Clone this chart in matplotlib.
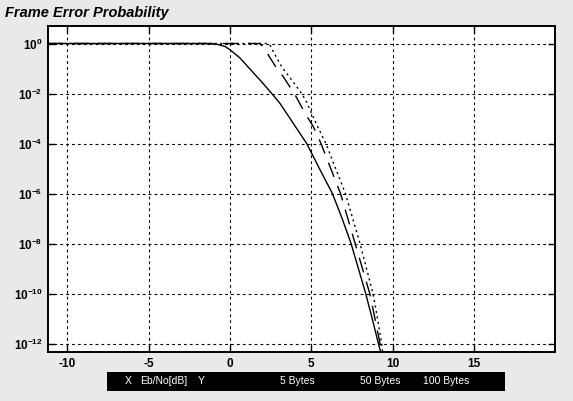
import numpy as np
import matplotlib
matplotlib.use("Agg")
import matplotlib.pyplot as plt
import matplotlib.patches as patches

# Eb/No in dB and log10 of frame error probability
x_5 = [-11.2, -1.5, -0.8, -0.3, 0.0, 0.6, 1.2, 1.9, 2.57, 3.08, 3.9, 4.72,
       5.5, 6.3, 6.9, 7.45, 7.9, 8.35, 8.75, 9.13, 9.3]
lg_5 = [0, 0, -0.03, -0.12, -0.25, -0.57, -1.0, -1.5, -2.0, -2.4, -3.2, -4.0,
        -5.0, -6.0, -7.0, -8.0, -9.0, -10.0, -11.0, -12.0, -12.4]

x_50 = [-11.2, 1.8, 2.1, 2.36, 2.87, 3.28, 4.0, 4.62, 5.13, 5.6, 6.2, 6.8,
        7.25, 7.7, 8.15, 8.6, 8.92, 9.23, 9.35]
lg_50 = [0, 0, -0.15, -0.46, -0.99, -1.33, -2.05, -2.79, -3.33, -4.0, -5.0, -6.0,
         -7.0, -8.0, -9.0, -10.0, -11.0, -12.0, -12.4]

x_100 = [-11.2, 2.3, 2.5, 2.67, 3.18, 3.9, 4.41, 4.72, 5.3, 5.9, 6.5, 7.1,
         7.55, 8.0, 8.4, 8.8, 9.08, 9.33, 9.4]
lg_100 = [0, 0, -0.1, -0.33, -0.93, -1.55, -2.0, -2.35, -3.2, -4.0, -5.0, -6.0,
          -7.0, -8.0, -9.0, -10.0, -11.0, -12.0, -12.4]

xticks = [-10, -5, 0, 5, 10, 15]
yexps = [0, -2, -4, -6, -8, -10, -12]
bar_labels = ["X", "Eb/No[dB]", "Y", "5 Bytes", "50 Bytes", "100 Bytes"]
bar_xpos = [125, 140, 198, 280, 360, 423]  # pixel positions in the bottom strip

plt.rcParams['font.family'] = ['Liberation Sans', 'DejaVu Sans']
plt.rcParams['mathtext.fontset'] = 'custom'
plt.rcParams['mathtext.rm'] = 'Liberation Sans'
plt.rcParams['mathtext.bf'] = 'Liberation Sans:bold'

W, H = 573, 401
fig = plt.figure(figsize=(W / 100, H / 100), dpi=100, facecolor='#e9e9e9')
ax = fig.add_axes([48 / W, 1 - 352 / H, (555 - 48) / W, (352 - 26) / H])
ax.set_facecolor('white')

ax.semilogy(x_5, 10.0 ** np.array(lg_5), color='black', lw=1.0, ls='-')
ax.semilogy(x_50, 10.0 ** np.array(lg_50), color='black', lw=1.0, ls=(0, (11, 7)))
ax.semilogy(x_100, 10.0 ** np.array(lg_100), color='black', lw=1.0, ls=(0, (1.5, 2.5)))

ax.set_xlim(-11.2, 20.0)
ax.set_ylim(10 ** -12.34, 10 ** 0.7)
ax.set_xticks(xticks)
ax.set_xticklabels([str(t).replace('-', '-') for t in xticks], fontweight='bold', fontsize=8.5)
ax.set_yticks([10.0 ** e for e in yexps])
ax.set_yticklabels([r'$\mathbf{10^{%d}}$' % e for e in yexps], fontsize=8.5)
ax.minorticks_off()
ax.tick_params(direction='in', length=5, width=1, top=True, right=True, pad=4)
ax.grid(True, color='black', lw=0.8, ls=(0, (2.5, 2.8)))
for s in ax.spines.values():
    s.set_linewidth(1.4)

fig.text(5 / W, 1 - 13 / H, "Frame Error Probability", fontsize=10.5,
         fontweight='bold', fontstyle='italic', va='center', ha='left')

# black strip with axis / series names
bar = patches.Rectangle((107 / W, 1 - 391 / H), (505 - 107) / W, 19 / H,
                        transform=fig.transFigure, facecolor='black', edgecolor='none')
fig.patches.append(bar)
for lab, px in zip(bar_labels, bar_xpos):
    fig.text(px / W, 1 - 381.5 / H, lab, color='white', fontsize=7.5,
             va='center', ha='left')

fig.savefig("out.png", dpi=100, facecolor=fig.get_facecolor())
